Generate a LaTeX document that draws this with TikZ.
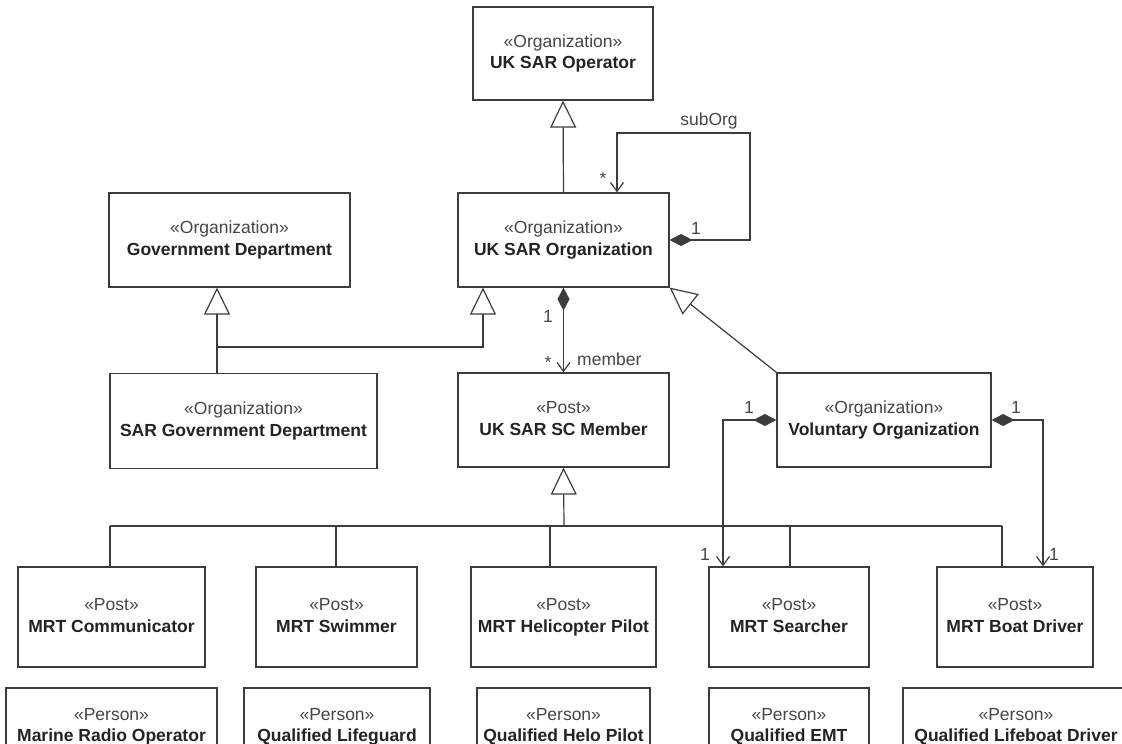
\documentclass[tikz,border=0pt]{standalone}
\usepackage{fontspec}
\setmainfont{Liberation Sans}
\usepackage{xcolor}
\usetikzlibrary{arrows.meta,calc}

\definecolor{linegray}{RGB}{60,60,60}
\definecolor{stgray}{RGB}{70,70,70}
\definecolor{namegray}{RGB}{35,35,35}
\newcommand{\stereo}[1]{{\color{stgray}«#1»\strut}}
\newcommand{\uname}[1]{\textbf{#1}\strut}
\newcommand{\umlfont}{\fontsize{17.5}{21.5}\selectfont}

\tikzset{
  umlbox/.style={draw=linegray,line width=1.2pt,fill=white,align=center,inner sep=0pt,font=\umlfont,text=namegray},
  conn/.style={draw=linegray,line width=1.2pt},
  gen/.style={conn,-{Triangle[open,length=27pt,width=26pt]}},
  comp/.style={conn,{Diamond[length=23pt,width=12pt]}-{Straight Barb[length=9pt,width=13pt]}},
  lbl/.style={font=\umlfont,text=stgray,inner sep=0pt}
}

\begin{document}
\begin{tikzpicture}[x=1pt,y=-1pt]
\useasboundingbox (0,0) rectangle (1122,744);

% organizations
\node[umlbox,minimum width=180pt,minimum height=93pt] (op) at (563,53.5) {\stereo{Organization}\\\uname{UK SAR Operator}};
\node[umlbox,minimum width=211pt,minimum height=94pt] (org) at (563.5,240) {\stereo{Organization}\\\uname{UK SAR Organization}};
\node[umlbox,minimum width=241pt,minimum height=94pt] (gov) at (229.5,240) {\stereo{Organization}\\\uname{Government Department}};
\node[umlbox,minimum width=267pt,minimum height=95pt] (sargov) at (243.5,421) {\stereo{Organization}\\\uname{SAR Government Department}};
\node[umlbox,minimum width=211pt,minimum height=94pt] (sc) at (563.5,420) {\stereo{Post}\\\uname{UK SAR SC Member}};
\node[umlbox,minimum width=214pt,minimum height=94pt] (vol) at (884,420) {\stereo{Organization}\\\uname{Voluntary Organization}};

% posts
\node[umlbox,minimum width=187pt,minimum height=100pt] (com) at (111.5,617) {\stereo{Post}\\\uname{MRT Communicator}};
\node[umlbox,minimum width=161pt,minimum height=100pt] (swim) at (336.5,617) {\stereo{Post}\\\uname{MRT Swimmer}};
\node[umlbox,minimum width=185pt,minimum height=100pt] (heli) at (563.5,617) {\stereo{Post}\\\uname{MRT Helicopter Pilot}};
\node[umlbox,minimum width=160pt,minimum height=100pt] (search) at (789,617) {\stereo{Post}\\\uname{MRT Searcher}};
\node[umlbox,minimum width=156pt,minimum height=100pt] (boat) at (1015,617) {\stereo{Post}\\\uname{MRT Boat Driver}};

% persons
\node[umlbox,minimum width=211pt,minimum height=77pt] (radio) at (111.5,726.5) {\stereo{Person}\\\uname{Marine Radio Operator}};
\node[umlbox,minimum width=186pt,minimum height=77pt] (guard) at (337,726.5) {\stereo{Person}\\\uname{Qualified Lifeguard}};
\node[umlbox,minimum width=173pt,minimum height=77pt] (helo) at (563.5,726.5) {\stereo{Person}\\\uname{Qualified Helo Pilot}};
\node[umlbox,minimum width=160pt,minimum height=77pt] (emt) at (789,726.5) {\stereo{Person}\\\uname{Qualified EMT}};
\node[umlbox,minimum width=226pt,minimum height=77pt] (lifeboat) at (1016,726.5) {\stereo{Person}\\\uname{Qualified Lifeboat Driver}};

% generalizations
\draw[gen] (org.north) -- (op.south);
\draw[gen] (vol.north west) -- (org.south east);
\coordinate (j1) at (217,347);
\coordinate (j2) at (483,347);
\draw[gen] (sargov.north -| j1) -- (gov.south -| j1);
\draw[gen] (j1) -- (j2) -- (org.south -| j2);

\coordinate (bus) at (564,526);
\draw[gen] (bus) -- (sc.south);
\coordinate (bcom) at (110,526);
\coordinate (bboat) at (1002,526);
\draw[conn] (bcom) -- (bboat);
\foreach \n/\x in {com/110,swim/336,heli/550,search/790,boat/1002}{
  \coordinate (b\n) at (\x,526);
  \draw[conn] (b\n) -- (b\n |- \n.north);
}

% compositions
\coordinate (s1) at (750,133);
\coordinate (s2) at (617,133);
\draw[comp] (org.east) -| (s1) -- (s2) -- (s2 |- org.north);
\draw[comp] (org.south) -- (sc.north);
\coordinate (ls) at (723,420);
\coordinate (rs) at (1043,420);
\draw[comp] (vol.west) -- (ls) -- (ls |- search.north);
\draw[comp] (vol.east) -- (rs) -- (rs |- boat.north);

% labels
\node[lbl] (subOrg) at (709,121) {subOrg};
\node[lbl] (subStar) at (603,178) {*};
\node[lbl] (subOne) at (696,228) {1};
\node[lbl] (memOne) at (548,316) {1};
\node[lbl] (memStar) at (548,362) {*};
\node[lbl,anchor=west] (member) at (577,359) {member};
\node[lbl] (volOneL) at (749,407) {1};
\node[lbl] (volOneR) at (1016,407) {1};
\node[lbl] (searchOne) at (705,554) {1};
\node[lbl] (boatOne) at (1054,554) {1};
\end{tikzpicture}
\end{document}
